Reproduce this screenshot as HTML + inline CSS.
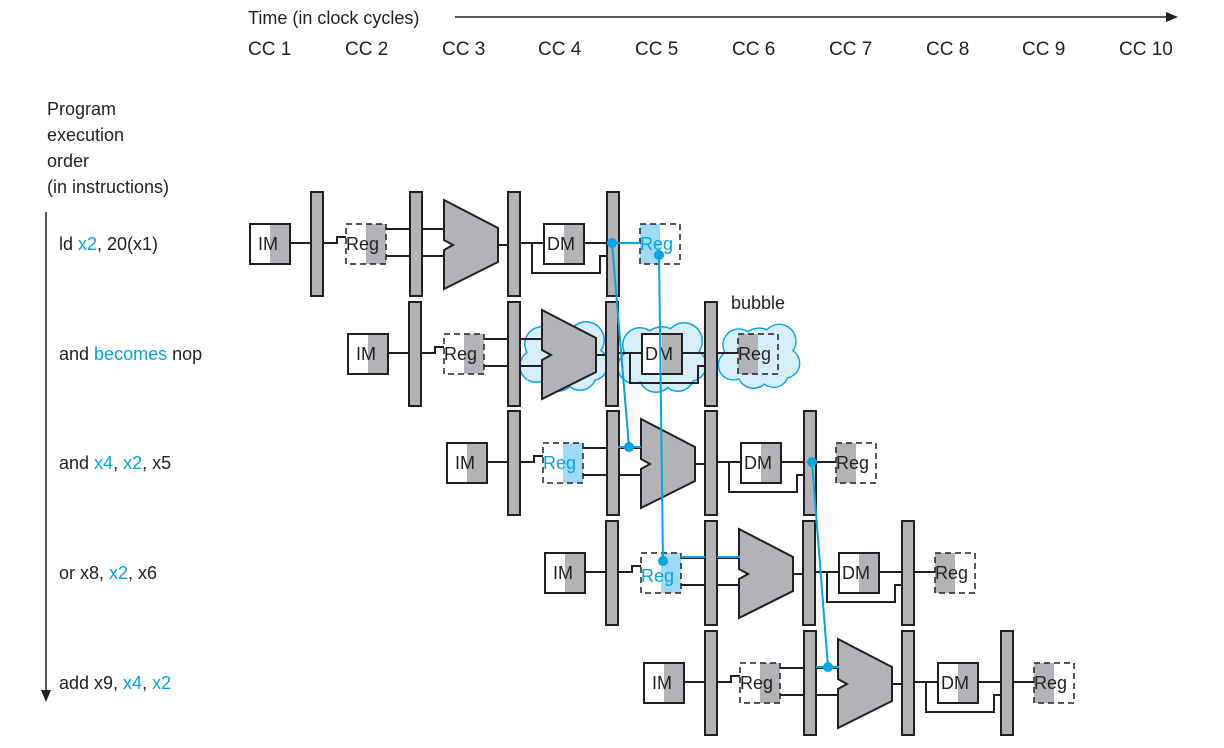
<!DOCTYPE html>
<html><head><meta charset="utf-8"><style>
html,body{margin:0;padding:0;background:#fff}
svg{display:block}
text{font-family:"Liberation Sans",Arial,sans-serif;fill:#231f20}
</style></head><body>
<svg width="1224" height="748" viewBox="0 0 1224 748" xmlns="http://www.w3.org/2000/svg">
<defs>
<g id="row" stroke="#231f20" stroke-width="2" fill="none">
  <rect x="250" y="224" width="40" height="40" fill="#fff"/>
  <rect x="270" y="225" width="19" height="38" fill="#b1b3b6" stroke="none"/>
  <rect x="250" y="224" width="40" height="40"/>
  <line x1="290" y1="243" x2="311" y2="243"/>
  <rect x="311" y="192" width="12" height="104" fill="#b1b3b6"/>
  <path d="M323 243 H337 V237 H346"/>
  <line x1="386" y1="229" x2="410" y2="229"/>
  <line x1="386" y1="256" x2="410" y2="256"/>
  <line x1="422" y1="229" x2="445" y2="229"/>
  <line x1="422" y1="256" x2="445" y2="256"/>
  <rect x="410" y="192" width="12" height="104" fill="#b1b3b6"/>
  <polygon points="444,200 498,228 498,262 444,289 444,250 453,245 444,240" fill="#b1b3b6"/>
  <line x1="498" y1="245" x2="508" y2="245"/>
  <rect x="508" y="192" width="12" height="104" fill="#b1b3b6"/>
  <line x1="520" y1="243" x2="544" y2="243"/>
  <path d="M532 243 V273 H600 V256 H607"/>
  <rect x="544" y="224" width="40" height="40" fill="#fff"/>
  <rect x="564" y="225" width="19" height="38" fill="#b1b3b6" stroke="none"/>
  <rect x="544" y="224" width="40" height="40"/>
  <line x1="584" y1="243" x2="607" y2="243"/>
  <rect x="607" y="192" width="12" height="104" fill="#b1b3b6"/>
  <line x1="619" y1="243" x2="640" y2="243"/>
</g>
<g id="cloudO" fill="#00a5e3">
  <circle cx="0" cy="-8" r="21"/><circle cx="22" cy="-14" r="19"/><circle cx="-22" cy="-10" r="18"/>
  <circle cx="-28" cy="12" r="17"/><circle cx="28" cy="10" r="17"/><circle cx="-6" cy="20" r="18"/><circle cx="16" cy="20" r="17"/>
</g>
<g id="cloudI" fill="#d6eefa">
  <circle cx="0" cy="-8" r="19.5"/><circle cx="22" cy="-14" r="17.5"/><circle cx="-22" cy="-10" r="16.5"/>
  <circle cx="-28" cy="12" r="15.5"/><circle cx="28" cy="10" r="15.5"/><circle cx="-6" cy="20" r="16.5"/><circle cx="16" cy="20" r="15.5"/>
</g>
</defs>

<!-- header -->
<text x="248" y="24" font-size="18">Time (in clock cycles)</text>
<line x1="455" y1="17" x2="1168" y2="17" stroke="#231f20" stroke-width="1.5"/>
<polygon points="1178,17 1166,12 1166,22" fill="#231f20"/>
<g font-size="19">
<text x="248" y="55">CC 1</text><text x="345" y="55">CC 2</text><text x="442" y="55">CC 3</text>
<text x="538" y="55">CC 4</text><text x="635" y="55">CC 5</text><text x="732" y="55">CC 6</text>
<text x="829" y="55">CC 7</text><text x="926" y="55">CC 8</text><text x="1022" y="55">CC 9</text>
<text x="1119" y="55">CC 10</text>
</g>
<g font-size="18">
<text x="47" y="115">Program</text><text x="47" y="141">execution</text>
<text x="47" y="167">order</text><text x="47" y="193">(in instructions)</text>
</g>
<line x1="46" y1="212" x2="46" y2="692" stroke="#231f20" stroke-width="1.5"/>
<polygon points="46,702 41,690 51,690" fill="#231f20"/>

<g font-size="18">
<text x="59" y="250">ld <tspan fill="#00a5e3">x2</tspan>, 20(x1)</text>
<text x="59" y="360">and <tspan fill="#00a5e3">becomes</tspan> nop</text>
<text x="59" y="469">and <tspan fill="#00a5e3">x4</tspan>, <tspan fill="#00a5e3">x2</tspan>, x5</text>
<text x="59" y="579">or x8, <tspan fill="#00a5e3">x2</tspan>, x6</text>
<text x="59" y="689">add x9, <tspan fill="#00a5e3">x4</tspan>, <tspan fill="#00a5e3">x2</tspan></text>
</g>

<!-- rows -->
<use href="#row"/>
<!-- row2 clouds behind -->
<g transform="translate(564,354)"><use href="#cloudO"/><use href="#cloudI"/></g>
<g transform="translate(662,355)"><use href="#cloudO"/><use href="#cloudI"/></g>
<g transform="translate(759,354) scale(0.92)"><use href="#cloudO"/><use href="#cloudI"/></g>
<use href="#row" transform="translate(98,110)"/>
<use href="#row" transform="translate(197,219)"/>
<use href="#row" transform="translate(295,329)"/>
<use href="#row" transform="translate(394,439)"/>

<!-- final stage lines (row bar4 -> Reg) -->
<!-- Reg boxes -->
<g stroke="#231f20" stroke-width="1.5" stroke-dasharray="6,4" fill="none">
  <!-- row1 -->
  <rect x="366" y="224" width="20" height="40" fill="#b1b3b6" stroke="none"/>
  <rect x="346" y="224" width="40" height="40"/>
  <rect x="640" y="224" width="20" height="40" fill="#9fd9f6" stroke="none"/>
  <rect x="640" y="224" width="40" height="40"/>
  <!-- row2 -->
  <rect x="464" y="334" width="20" height="40" fill="#b1b3b6" stroke="none"/>
  <rect x="444" y="334" width="40" height="40"/>
  <rect x="738" y="334" width="20" height="40" fill="#b1b3b6" stroke="none"/>
  <rect x="738" y="334" width="40" height="40"/>
  <!-- row3 -->
  <rect x="563" y="443" width="20" height="40" fill="#9fd9f6" stroke="none"/>
  <rect x="543" y="443" width="40" height="40"/>
  <rect x="836" y="443" width="20" height="40" fill="#b1b3b6" stroke="none"/>
  <rect x="836" y="443" width="40" height="40"/>
  <!-- row4 -->
  <rect x="661" y="553" width="20" height="40" fill="#9fd9f6" stroke="none"/>
  <rect x="641" y="553" width="40" height="40"/>
  <rect x="935" y="553" width="20" height="40" fill="#b1b3b6" stroke="none"/>
  <rect x="935" y="553" width="40" height="40"/>
  <!-- row5 -->
  <rect x="760" y="663" width="20" height="40" fill="#b1b3b6" stroke="none"/>
  <rect x="740" y="663" width="40" height="40"/>
  <rect x="1034" y="663" width="20" height="40" fill="#b1b3b6" stroke="none"/>
  <rect x="1034" y="663" width="40" height="40"/>
</g>

<!-- labels -->
<g font-size="18">
  <text x="258" y="250">IM</text><text x="356" y="360">IM</text><text x="455" y="469">IM</text><text x="553" y="579">IM</text><text x="652" y="689">IM</text>
  <text x="547" y="250">DM</text><text x="645" y="360">DM</text><text x="744" y="469">DM</text><text x="842" y="579">DM</text><text x="941" y="689">DM</text>
  <text x="346" y="250">Reg</text><text x="444" y="360">Reg</text><text x="740" y="689">Reg</text>
  <text x="738" y="360">Reg</text><text x="836" y="469">Reg</text><text x="935" y="579">Reg</text><text x="1034" y="689">Reg</text>
  <text x="640" y="250" fill="#00a5e3" style="fill:#00a5e3">Reg</text>
  <text x="543" y="469" style="fill:#00a5e3">Reg</text>
  <text x="641" y="582" style="fill:#00a5e3">Reg</text>
  <text x="731" y="309">bubble</text>
</g>

<!-- forwarding / blue -->
<g stroke="#00a5e3" stroke-width="2" fill="none">
  <line x1="612" y1="243" x2="640" y2="243"/>
  <line x1="612" y1="243" x2="629" y2="447"/>
  <line x1="618" y1="447" x2="641" y2="447"/>
  <line x1="659" y1="255" x2="663" y2="561"/>
  <line x1="681" y1="557" x2="705" y2="557"/>
  <line x1="717" y1="557" x2="740" y2="557"/>
  <line x1="812" y1="462" x2="828" y2="667"/>
  <line x1="816" y1="667" x2="839" y2="667"/>
</g>
<g fill="#00a5e3">
  <circle cx="612" cy="243" r="5"/><circle cx="659" cy="255" r="5"/>
  <circle cx="629" cy="447" r="5"/><circle cx="663" cy="561" r="5"/>
  <circle cx="812" cy="462" r="5"/><circle cx="828" cy="667" r="5"/>
</g>
</svg>
</body></html>
